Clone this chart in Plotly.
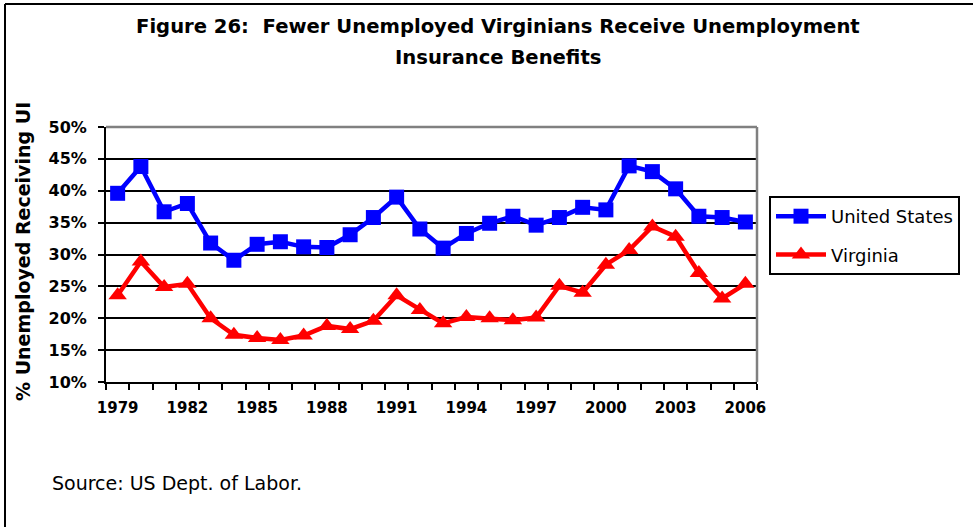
import plotly.graph_objects as go

years = list(range(1979, 2007))
us = [39.6, 43.8, 36.7, 38.0, 31.8, 29.1, 31.6, 32.0, 31.2, 31.1, 33.1, 35.8, 39.0, 34.0,
      31.0, 33.3, 34.9, 36.0, 34.6, 35.8, 37.4, 37.0, 43.9, 43.0, 40.3, 36.0, 35.8, 35.1]
va = [23.6, 28.9, 24.9, 25.4, 20.0, 17.4, 16.9, 16.6, 17.3, 18.8, 18.3, 19.6, 23.6, 21.3,
      19.2, 20.2, 20.0, 19.7, 20.1, 25.1, 24.0, 28.4, 30.7, 34.4, 32.8, 27.1, 23.1, 25.4]
cats = [str(y) for y in years]
tick_text = [str(y) if (y - 1979) % 3 == 0 else "" for y in years]

W, H = 973, 527
L, R, T, B = 106, 757, 127, 382
pw, ph = R - L, B - T

def px(x):
    return (x - L) / pw

def py(y):
    return (B - y) / ph

FONT = "DejaVu Sans, Liberation Sans, Arial, sans-serif"

fig = go.Figure()
fig.add_trace(go.Scatter(
    x=cats, y=us, name="United States", mode="lines+markers",
    line=dict(color="#0000FF", width=4.5),
    marker=dict(symbol="square", size=15, color="#0000FF"),
    legendgroup="us"))
fig.add_trace(go.Scatter(
    x=cats, y=va, name="Virginia", mode="lines+markers",
    line=dict(color="#FF0000", width=4.5),
    marker=dict(symbol="triangle-up", size=16, color="#FF0000"),
    legendgroup="va"))

fig.update_layout(
    width=W, height=H,
    margin=dict(l=L, r=W - R, t=T, b=H - B, autoexpand=False),
    paper_bgcolor="white", plot_bgcolor="white",
    font=dict(family=FONT, color="black"),
    showlegend=True,
    legend=dict(x=px(769), y=py(196), xanchor="left", yanchor="top",
                bordercolor="black", borderwidth=2, bgcolor="white",
                font=dict(size=18, family=FONT),
                traceorder="grouped", tracegroupgap=12,
                itemwidth=50),
    xaxis=dict(type="category", range=[-0.5, 27.5],
               tickmode="array", tickvals=cats, ticktext=tick_text, tickangle=0,
               tickson="boundaries", ticks="outside", ticklen=6, tickwidth=2,
               tickcolor="black", showline=True, linecolor="black", linewidth=2,
               showgrid=False, ticklabelstandoff=11,
               tickfont=dict(size=15, family=FONT, weight="bold")),
    yaxis=dict(range=[10, 50], dtick=5, tick0=10, ticksuffix="%",
               ticks="outside", ticklen=6, tickwidth=2, tickcolor="black",
               showline=True, linecolor="black", linewidth=2,
               showgrid=True, gridcolor="black", gridwidth=2, zeroline=False,
               ticklabelstandoff=8,
               tickfont=dict(size=16, family=FONT, weight="bold")),
)

# plot-area top and right border (gray)
fig.add_shape(type="line", xref="paper", yref="paper", x0=0, x1=1, y0=1, y1=1,
              line=dict(color="#808080", width=2.5), layer="above")
fig.add_shape(type="line", xref="paper", yref="paper", x0=1, x1=1, y0=0, y1=1,
              line=dict(color="#808080", width=2.5), layer="above")
# outer frame (left and top only visible)
fig.add_shape(type="line", xref="paper", yref="paper", x0=px(5), x1=px(5),
              y0=py(4), y1=py(540), line=dict(color="black", width=2))
fig.add_shape(type="line", xref="paper", yref="paper", x0=px(5), x1=px(990),
              y0=py(4), y1=py(4), line=dict(color="black", width=2))

fig.add_annotation(text="Figure 26:  Fewer Unemployed Virginians Receive Unemployment",
                   xref="paper", yref="paper", x=px(498), y=py(26),
                   showarrow=False, xanchor="center", yanchor="middle",
                   font=dict(size=19.6, family=FONT, weight="bold"))
fig.add_annotation(text="Insurance Benefits",
                   xref="paper", yref="paper", x=px(498), y=py(57),
                   showarrow=False, xanchor="center", yanchor="middle",
                   font=dict(size=19.6, family=FONT, weight="bold"))
fig.add_annotation(text="% Unemployed Receiving UI",
                   xref="paper", yref="paper", x=px(23), y=py(252),
                   showarrow=False, xanchor="center", yanchor="middle", textangle=-90,
                   font=dict(size=19, family=FONT, weight="bold"))
fig.add_annotation(text="Source: US Dept. of Labor.",
                   xref="paper", yref="paper", x=px(50), y=py(483),
                   showarrow=False, xanchor="left", yanchor="middle",
                   font=dict(size=19, family=FONT))

fig.write_html("out.html")
